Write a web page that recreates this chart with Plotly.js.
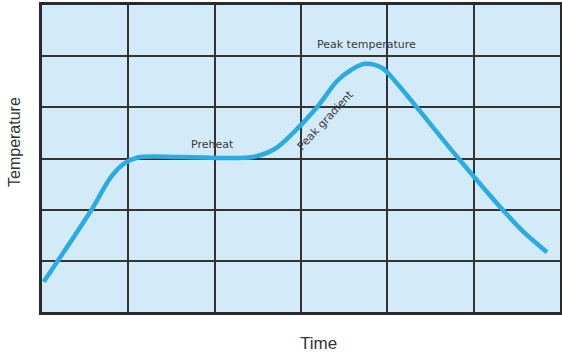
<!DOCTYPE html>
<html>
<head>
<meta charset="utf-8">
<script src="https://cdn.plot.ly/plotly-3.0.1.min.js"></script>
<style>html,body{margin:0;padding:0;background:#fff;}#chart{width:562px;height:354px;}</style>
</head>
<body>
<div id="chart"></div>
<script>
var timeVals = [0.02, 0.57, 0.80, 0.95, 1.11, 1.60, 2.44, 2.70, 2.91, 3.19, 3.42, 3.58, 3.74, 3.94, 4.12, 4.82, 5.34, 5.58, 5.85];
var tempVals = [0.59, 1.99, 2.64, 2.90, 3.02, 3.03, 3.03, 3.19, 3.50, 4.01, 4.52, 4.73, 4.85, 4.77, 4.45, 3.01, 1.99, 1.56, 1.17];
var labelText = ["Preheat", "Peak temperature", "Peak gradient"];
var labelX = [1.98, 3.76, 3.28];
var labelY = [3.28, 5.22, 3.75];
var labelAngle = [0, 0, -47];

var trace = {
  x: timeVals, y: tempVals, mode: 'lines', type: 'scatter',
  line: {color: '#2aabe2', width: 4.5, shape: 'spline', smoothing: 0.9},
  hoverinfo: 'skip'
};
var anns = labelText.map(function(t, i){
  return {x: labelX[i], y: labelY[i], xref: 'x', yref: 'y', text: t, showarrow: false,
    textangle: labelAngle[i], xanchor: 'center', yanchor: 'middle',
    font: {family: 'DejaVu Sans', size: 11, color: '#3a3a3a'}};
});
anns.push({x: 0.533, y: -0.101, xref: 'paper', yref: 'paper', text: 'Time', showarrow: false,
  xanchor: 'center', yanchor: 'middle',
  font: {family: 'Liberation Sans', size: 17, color: '#333'}});
anns.push({x: -0.052, y: 0.554, xref: 'paper', yref: 'paper', text: 'Temperature', showarrow: false, textangle: -90,
  xanchor: 'center', yanchor: 'middle',
  font: {family: 'Liberation Sans', size: 16, color: '#333'}});

var axisCommon = {range: [0, 6], dtick: 1, tick0: 0, showticklabels: false, ticks: '',
  showgrid: true, gridcolor: '#333', gridwidth: 2, zeroline: false,
  showline: true, linecolor: '#2a2a2a', linewidth: 3, mirror: true, fixedrange: true};
var layout = {
  width: 562, height: 354,
  margin: {l: 42, r: 2, t: 5, b: 42},
  paper_bgcolor: '#ffffff', plot_bgcolor: '#d3ebf8',
  xaxis: Object.assign({}, axisCommon),
  yaxis: Object.assign({}, axisCommon),
  showlegend: false,
  annotations: anns
};
Plotly.newPlot('chart', [trace], layout, {displayModeBar: false, staticPlot: true});
</script>
</body>
</html>
